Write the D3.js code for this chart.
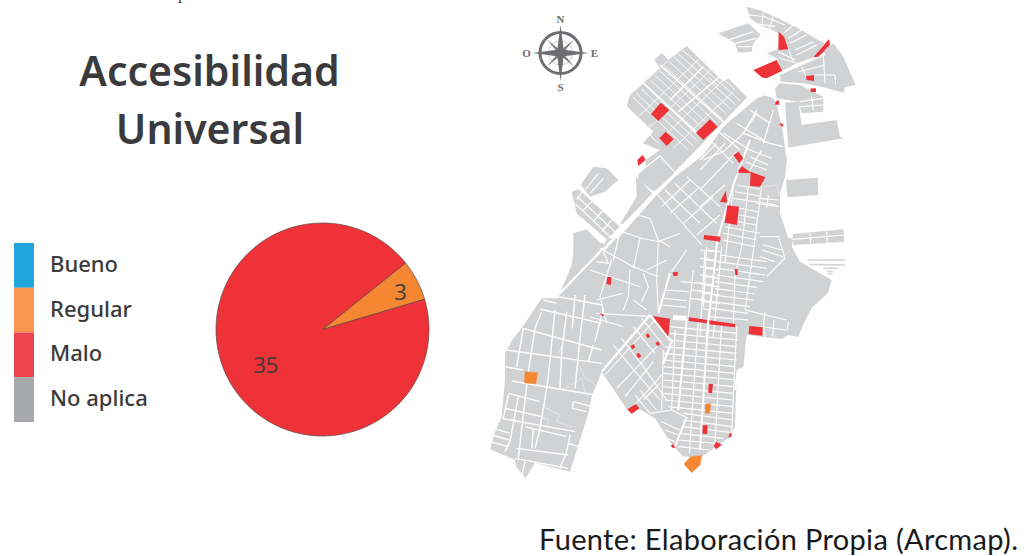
<!DOCTYPE html>
<html>
<head>
<meta charset="utf-8">
<script src="https://cdnjs.cloudflare.com/ajax/libs/d3/7.8.5/d3.min.js"></script>
<style>
  html, body { margin: 0; padding: 0; background: #fff; }
  svg { display: block; }
</style>
</head>
<body>
<svg id="chart" width="1036" height="556"></svg>
<script>
// legend and pie
const legendLabels = ["Bueno", "Regular", "Malo", "No aplica"];
const legendColors = ["#21a5dc", "#f6964f", "#ee4450", "#a7a9ac"];
const pieLabels = ["3", "35"];
// slice sizes as drawn: the orange wedge in the picture is narrower than 3/38
const pieValues = [2.3, 35];
const pieColors = ["#f58733", "#ee3237"];

// map. every list is in the units of its own sheet
const northLand = [
  [770,20,815,32,870,58,925,85,985,120,1003,130,972,172,920,190,878,212,860,175,830,160,865,148,867,100,800,70,780,55],
  [1030,130,1060,170,1097,255,1065,262,1060,278,1000,262,940,250,872,245,870,225,925,200,975,175],
  [685,100,775,70,812,105,790,130,785,155,745,158,735,130],
  [855,265,870,250,930,255,1000,290,1000,335,935,340,925,305,860,295],
  [885,308,925,305,935,375,1040,360,1050,410,1060,415,895,443],
  [888,540,983,533,985,585,892,592],
  [908,702,1060,688,1063,725,910,735],
  [590,138,700,245,715,235,772,292,555,515,510,465,467,500,467,480,510,450,458,430,490,395,410,318,420,285,510,205,492,178,515,158,535,180],
  [510,470,555,520,492,575,445,540,445,522],
  [245,575,265,567,390,680,350,718,260,640],
  [272,555,310,500,350,505,385,540,345,575,300,590],
  [390,672,440,590,438,530,487,580,400,672],
  [250,700,290,688,345,745,340,760,250,760],
  [345,760,500,585,555,530,640,465,700,380,770,310,820,285,850,295,862,320,880,400,891,480,885,530,870,580,870,640,905,745,905,760]
];
const southLand = [
  [285,0,340,0,380,15,370,25,240,160,275,75],
  [380,-5,940,-5,935,20,960,65,1055,120,1044,159,995,204,969,255,955,291,925,285,905,297,800,285,790,380,770,390,765,560,750,590,665,650,610,650,575,612,525,535,478,507,455,522,442,510,365,395,335,470,325,520,270,695,190,675,165,668,137,715,108,680,105,660,30,628,45,575,65,530,75,420,75,340,100,295,125,265,185,175,235,175,240,160,370,25]
];
const northMainRoads = [
  [340,750,500,578,700,375,800,290,822,282],
  [862,300,884,400,892,470],
  [880,215,1005,162]
];
const northStreets = [
  [640,480,700,455,760,400,800,330],[760,400,840,430,880,440],[700,400,780,450],[740,370,820,420],[780,330,840,370],[800,340,760,400],[850,330,820,430],
  [262,590,380,700],[255,610,360,710],[280,570,260,600],[310,600,280,630],[340,630,310,665],[365,660,335,695],
  [285,570,325,520],[300,580,340,535],
  [700,125,790,95],[735,130,800,115],[745,140,790,140],
  [908,718,1062,705],[960,700,962,730],[1010,695,1012,728]
];
const southMainRoads = [
  [240,160,370,25],
  [510,225,575,305,550,370],
  [510,225,365,395]
];
const southHoles = [
  [580,225,620,228,622,242,578,240]
];
const gridStreets = [
  [22,170,190,330],[34,160,205,318],[48,146,220,305],[62,134,234,292],[76,120,248,278],[90,106,262,264],[104,92,276,250],
  [118,78,290,236],[132,64,304,222],[146,50,318,208],[158,40,332,194],[170,28,346,182],
  [40,230,223,56],[75,262,256,90],[110,295,301,114],[145,325,323,156],[88,60,108,40],
  [108,80,130,62],[250,110,280,140],[300,120,330,150],[70,280,100,310],[45,285,80,250]
];
const gridWideStreets = [
  [50,125,215,280],[105,75,300,250],[135,180,235,80],[160,215,290,105]
];
const midStreets = [
  [215,110,300,30],[240,130,330,50],[280,160,370,80],[320,195,390,135],
  [190,60,335,225],[225,60,330,160],[255,40,380,160],[290,20,390,110],
  [100,160,140,135,180,145,205,210,240,230],[95,185,155,205,205,215,270,190],
  [90,185,70,270],[150,205,130,295],[205,210,200,330,205,420],
  [30,235,130,290,205,320],[0,300,60,320,150,350],[65,270,30,380,50,460],
  [120,300,115,380,100,420],[20,390,100,370],[0,440,100,470],[20,430,190,440],
  [290,240,245,305],[310,300,295,440],[350,230,340,410],
  [225,360,295,365],[220,385,290,392],[215,405,290,412],[272,335,340,340],[305,360,345,365],[300,385,345,390],
  [345,240,390,245],[345,270,390,275],[345,295,390,300],[345,320,390,325],[342,345,390,350],[340,370,390,375],[340,395,390,400],
  [40,245,55,280,20,275],[160,310,175,350,155,395],[130,390,170,420],[170,300,230,270]
];
const midWideStreets = [
  [240,310,205,430]
];
const seStreets = [
  [190,120,185,300],[365,40,345,400],[295,30,268,430],[410,50,395,370],[225,60,215,300],
  [210,50,415,70],[210,70,415,90],[205,90,410,110],[195,110,410,130],[190,130,410,150],[190,150,405,170],[190,170,405,190],[190,190,410,210],[190,210,400,230],
  [190,230,400,250],[190,250,400,270],[195,270,400,290],[205,290,400,310],[250,310,400,330],[250,330,395,350],[250,350,395,368],[240,370,370,385],[235,390,350,400],[235,410,330,420],
  [40,105,110,190,180,270],[65,85,130,170,200,270],[100,50,165,130],[125,25,190,105],
  [15,195,165,30],[50,235,180,100],[75,260,160,155],[100,290,185,195],[130,270,180,220],
  [150,310,215,300],[215,300,255,320],[185,335,240,360],[195,360,235,375],[200,385,225,395],[120,240,170,300],[105,255,150,310]
];
const seWideStreets = [
  [260,25,235,300],[325,25,300,420],[225,410,260,320],[413,185,405,240]
];
const swStreets = [
  [165,42,350,85],[115,100,350,165],[65,165,350,205],[60,215,115,225],[80,258,330,300],[70,295,165,320],[60,340,170,365],[50,370,270,410],
  [25,400,75,415],[20,420,75,435],[15,440,70,455],[95,460,250,480],[90,490,250,520],[120,395,245,425],[250,445,280,455],
  [210,45,190,245],[245,50,230,170,225,280],[150,100,130,230,100,490],[115,100,95,215],[70,300,55,370],[100,305,75,440,60,470],
  [185,280,165,400,150,460],[270,0,262,100],[300,0,285,130],[355,40,330,140],[145,400,140,460],[255,420,245,470,225,520],[120,500,110,545],
  [265,320,320,335],[265,320,262,340,305,350],
  [170,50,150,100],[285,130,270,280],[325,150,310,200],[175,15,215,25],[220,5,350,30],[190,245,185,280]
];
const swFaintStreets = [
  [175,335,225,360,215,380,260,395],[275,195,300,250,330,265],[240,130,220,175],[240,280,290,250,300,290],[170,365,190,375,185,400]
];
const ceStreets = [
  [145,170,125,350,105,435,100,590],[185,170,155,400,135,540],[100,170,75,400],[65,350,40,620],
  [110,165,180,178],[105,185,180,198],[100,205,230,225],[95,230,175,245],[90,250,170,265],[85,270,170,285],[75,290,180,310],[70,310,170,330],[70,330,165,350],
  [60,375,200,395],[55,395,200,415],[55,415,195,435],[50,435,190,455],[45,455,170,472],[45,475,165,492],[40,495,160,510],[35,515,150,530],[35,535,145,550],[25,560,145,570],
  [180,320,235,320,255,385,200,440],[190,345,245,360],[185,360,250,380],[180,380,225,395],
  [185,60,150,120],[150,60,215,85],[150,80,205,105],[135,95,200,120],
  [175,205,235,210],[170,220,235,230],[205,195,200,235],
  [135,540,260,570],[195,545,190,590,195,625],[222,570,220,595,218,620],[265,575,262,600],[185,590,260,600],
  [0,360,50,365],[0,385,45,390],[0,410,45,415],[0,435,40,440],[0,460,40,465],[0,485,35,490],[0,510,35,515],[0,535,30,540],[15,360,0,620],
  [20,20,100,100],[50,0,120,60],[0,90,50,40],[0,120,75,40],[0,180,110,65],[0,230,75,165]
];
const ceFaintStreets = [
  [200,440,270,360],[190,170,230,165,240,200]
];
const ceWideStreets = [
  [150,30,100,165,52,330,25,580,20,630]
];
const ceStripes = [
  [322,390,435,390],[330,403,435,405],[370,415,415,415],[380,425,400,425],[385,432,395,432]
];
const neStreets = [
  [10,45,60,50,120,75],[25,70,90,80],[55,35,50,75],[85,50,70,95],
  [115,100,145,75],[130,115,170,90],[135,130,185,105],[150,150,205,125],[155,165,215,135],
  [100,155,150,180],[105,175,155,190],[125,135,145,185],[170,200,185,235],[235,165,240,250],[160,215,240,195],[210,225,270,225],[270,225,272,250],
  [165,305,235,295],[165,320,235,315],[200,290,205,330]
];
const northRed = [
  [866,95,882,110,895,148,865,150],
  [790,210,860,180,877,212,830,235,815,232],
  [1017,117,1020,135,985,170,970,172],
  [948,228,972,226,972,243,950,240],
  [962,265,978,265,978,276,962,276],
  [483,343,512,308,538,330,505,363],
  [508,415,527,395,551,417,530,438],
  [618,398,660,358,683,380,640,420],
  [442,480,458,465,467,480,445,498],
  [856,305,866,300,868,314,856,314],
  [867,373,878,370,880,382],
  [730,465,745,455,760,475,748,490],
  [745,512,755,498,785,520,745,518],
  [782,515,826,532,810,560,780,558],
  [690,605,708,572,711,608],
  [712,616,747,620,741,675,704,668],
  [642,705,692,710,690,725,641,718]
];
const southRed = [
  [764,87,773,87,773,105,766,105],
  [578,97,594,96,592,108,580,108],
  [382,110,395,112,392,135,379,132],
  [358,218,373,225,368,230],
  [518,228,570,236,565,290],
  [627,232,682,240,680,250,626,243],
  [688,241,766,252,764,262,688,253],
  [808,258,848,262,847,287,806,282],
  [497,285,504,280,511,290,503,295],
  [526,310,534,304,541,313,533,319],
  [451,319,460,312,466,322,457,328],
  [468,344,476,338,484,349,475,355],
  [442,508,468,492,478,505,455,521],
  [686,431,699,432,696,460,685,458],
  [668,556,683,556,681,582,667,581],
  [702,618,708,605,726,614,708,628],
  [745,590,752,577,756,585,750,593],
  [572,618,578,612,586,622,580,625]
];
const southOrange = [
  [135,395,173,398,167,432,133,428],
  [677,492,692,492,689,520,676,519],
  [612,672,632,650,665,647,660,675,652,682,635,698]
];
const compassLetters = [["N", 0], ["E", 90], ["S", 180], ["O", 270]];

const landColor = "#d1d2d4", red = "#ee3237", orange = "#f58733";

let svg = d3.select("#chart");

// title
svg.append("text").attr("x", 178).attr("y", -1)
    .attr("font-family", "Liberation Serif").attr("font-size", 16).attr("fill", "#3a3a3a").text("p");

let title = svg.append("g")
    .attr("font-family", "Noto Sans").attr("font-weight", 600)
    .attr("font-size", 41).attr("fill", "#3b3a3c").attr("text-anchor", "middle");
title.append("text").attr("x", 209.5).attr("y", 86).text("Accesibilidad");
title.append("text").attr("x", 210).attr("y", 144).text("Universal");

// legend
let legendY = d3.scaleBand().domain(legendLabels).range([243, 422]);
let legend = svg.append("g");
legend.selectAll("rect").data(legendLabels).enter().append("rect")
    .attr("x", 14).attr("width", 20)
    .attr("y", (d)=>legendY(d))
    .attr("height", legendY.bandwidth())
    .attr("fill", (d, i)=>legendColors[i]);
legend.selectAll("text").data(legendLabels).enter().append("text")
    .attr("x", 50)
    .attr("y", (d)=>legendY(d) + legendY.bandwidth() / 2 + 6.5)
    .attr("font-family", "Noto Sans").attr("font-weight", 500).attr("font-size", 22).attr("fill", "#3b3a3c")
    .text((d)=>d);

// pie
let radius = 106.5;
let pie = d3.pie().sort(null)
    .startAngle(51.3 * Math.PI / 180)
    .endAngle((360 + 51.3) * Math.PI / 180);
let arc = d3.arc().innerRadius(0).outerRadius(radius);
let pieG = svg.append("g").attr("transform", "translate(322.5,329.5)");
let slices = pie(pieValues);
pieG.selectAll("path").data(slices).enter().append("path")
    .attr("d", arc)
    .attr("fill", (d, i)=>pieColors[i])
    .attr("stroke", "#5a4a48").attr("stroke-width", 0.7);
let labelArcs = [d3.arc().innerRadius(88).outerRadius(88), d3.arc().innerRadius(64).outerRadius(64)];
pieG.selectAll("text").data(slices).enter().append("text")
    .attr("transform", (d, i)=>"translate(" + labelArcs[i].centroid(d) + ")")
    .attr("text-anchor", "middle").attr("dy", (d, i)=>i ? "0.63em" : "0.5em")
    .attr("font-family", "Open Sans").attr("font-size", 22).attr("fill", "#3f3a3c")
    .text((d, i)=>pieLabels[i]);

// map sheets, all drawn at one third of their units
function makeSheet(originX, originY) {
    let x = d3.scaleLinear().domain([0, 3]).range([originX, originX + 1]);
    let y = d3.scaleLinear().domain([0, 3]).range([originY, originY + 1]);
    return d3.line().x((d)=>x(d[0])).y((d)=>y(d[1]));
}
let northLine = makeSheet(490, 0),
    southLine = makeSheet(480, 240),
    gridLine = makeSheet(625, 40),
    midLine = makeSheet(590, 170),
    swLine = makeSheet(485, 295),
    seLine = makeSheet(600, 310),
    ceLine = makeSheet(700, 130),
    neLine = makeSheet(745, 0);

function toPoints(flat) {
    return d3.range(0, flat.length, 2).map((i)=>[flat[i], flat[i + 1]]);
}
function drawPolys(line, polys, color, strokeWidth) {
    svg.append("g").selectAll("path").data(polys).enter().append("path")
        .attr("d", (d)=>line(toPoints(d)) + "Z")
        .attr("fill", color)
        .attr("stroke", strokeWidth ? color : "none")
        .attr("stroke-width", strokeWidth || 0);
}
function drawLines(line, lines, width, color) {
    svg.append("g").selectAll("path").data(lines).enter().append("path")
        .attr("d", (d)=>line(toPoints(d)))
        .attr("fill", "none").attr("stroke", color || "#fff")
        .attr("stroke-width", width);
}

drawPolys(northLine, northLand, landColor);
drawPolys(southLine, southLand, landColor);
drawLines(ceLine, ceStripes, 1.6, landColor);
drawLines(northLine, northStreets, 1.2);
drawLines(gridLine, gridStreets, 0.9);
drawLines(gridLine, gridWideStreets, 1.6);
drawLines(midLine, midStreets, 1.1);
drawLines(midLine, midWideStreets, 2);
drawLines(seLine, seStreets, 1.1);
drawLines(seLine, seWideStreets, 1.9);
drawLines(swLine, swStreets, 1.4);
drawLines(swLine, swFaintStreets, 0.7, "#eeeeef");
drawLines(ceLine, ceStreets, 1.1);
drawLines(ceLine, ceFaintStreets, 0.7, "#eeeeef");
drawLines(ceLine, ceWideStreets, 2);
drawLines(neLine, neStreets, 1.1);
drawLines(northLine, northMainRoads, 2.6);
drawLines(southLine, southMainRoads, 2.2);
drawPolys(southLine, southHoles, "#fff");
drawPolys(northLine, northRed, red);
drawPolys(southLine, southRed, red);
drawPolys(southLine, southOrange, orange, 0.5);

// compass
let compass = svg.append("g").attr("transform", "translate(560.5,53)");
let compassGray = "#6d6e71";
compass.append("circle").attr("r", 20.5).attr("fill", "none")
    .attr("stroke", compassGray).attr("stroke-width", 3);
compass.append("circle").attr("r", 12).attr("fill", "none")
    .attr("stroke", "#a7a9ac").attr("stroke-width", 0.6);
let star = d3.lineRadial().curve(d3.curveLinearClosed);
function starPoints(rLong, rInner, offset) {
    return d3.range(8).map((i)=>[offset + i * Math.PI / 4, i % 2 ? rInner : rLong]);
}
compass.append("path").attr("d", star(starPoints(19, 2.5, Math.PI / 4)))
    .attr("fill", "#7d7e81");
compass.append("path").attr("d", star(starPoints(28, 4.5, 0)))
    .attr("fill", compassGray);
compass.selectAll("text").data(compassLetters).enter().append("text")
    .attr("x", (d)=>34 * Math.sin(d[1] * Math.PI / 180))
    .attr("y", (d)=>-34 * Math.cos(d[1] * Math.PI / 180))
    .attr("dy", "0.36em").attr("text-anchor", "middle")
    .attr("font-family", "Liberation Serif").attr("font-weight", "bold")
    .attr("font-size", 11).attr("fill", compassGray)
    .text((d)=>d[0]);

// source note
svg.append("text").attr("x", 539).attr("y", 550)
    .attr("font-family", "Lato").attr("font-size", 29)
    .attr("textLength", 479).attr("lengthAdjust", "spacing").attr("fill", "#1a1a1a")
    .text("Fuente: Elaboración Propia (Arcmap).");
</script>
</body>
</html>
